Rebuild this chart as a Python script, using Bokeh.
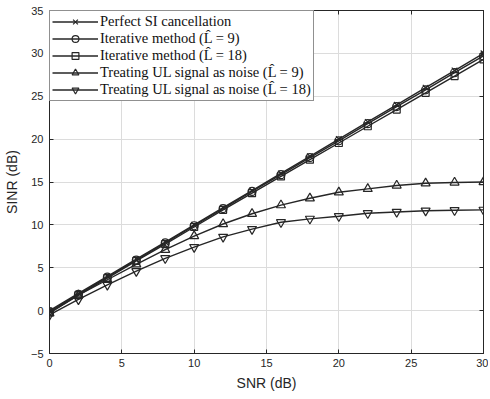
from bokeh.plotting import figure
from bokeh.models import FixedTicker, Legend, LegendItem, LinearAxis
from bokeh.embed import file_html
from bokeh.resources import INLINE

snr = [0, 2, 4, 6, 8, 10, 12, 14, 16, 18, 20, 22, 24, 26, 28, 30]
perfect = [0, 2, 4, 6, 8, 10, 12, 14, 16, 18, 20, 22, 24, 26, 28, 30]
iter_l9 = [-0.1, 1.9, 3.9, 5.9, 7.9, 9.9, 11.9, 13.9, 15.85, 17.85, 19.8, 21.8, 23.8, 25.75, 27.75, 29.7]
iter_l18 = [-0.2, 1.8, 3.8, 5.8, 7.75, 9.75, 11.75, 13.7, 15.65, 17.6, 19.55, 21.5, 23.45, 25.4, 27.35, 29.3]
ul_l9 = [-0.3, 1.8, 3.6, 5.4, 7.1, 8.7, 10.1, 11.3, 12.3, 13.1, 13.8, 14.2, 14.6, 14.85, 14.95, 15.0]
ul_l18 = [-0.5, 1.3, 3.0, 4.6, 6.1, 7.4, 8.6, 9.5, 10.3, 10.7, 11.0, 11.35, 11.5, 11.65, 11.7, 11.75]
x_ticks = [0, 5, 10, 15, 20, 25, 30]
y_ticks = [-5, 0, 5, 10, 15, 20, 25, 30, 35]

labels = [
    "Perfect SI cancellation",
    "Iterative method (L\u0302 = 9)",
    "Iterative method (L\u0302 = 18)",
    "Treating UL signal as noise (L\u0302 = 9)",
    "Treating UL signal as noise (L\u0302 = 18)",
]
series = [perfect, iter_l9, iter_l18, ul_l9, ul_l18]
markers = ["x", "circle", "square", "triangle", "inverted_triangle"]
sizes = [8, 8, 7, 9, 9]

p = figure(width=488, height=396, x_range=(0, 30), y_range=(-5, 35),
           output_backend="svg", toolbar_location=None,
           min_border_left=48, min_border_right=5, min_border_top=10, min_border_bottom=43)

line_col = "#262626"
items = []
for ys, lab, mk, sz in zip(series, labels, markers, sizes):
    r1 = p.line(snr, ys, line_color=line_col, line_width=1.4)
    r2 = p.scatter(snr, ys, marker=mk, size=sz, line_color=line_col, line_width=1.2,
                   fill_color=None)
    items.append(LegendItem(label=lab, renderers=[r1, r2]))

leg = Legend(items=items, location="top_left")
leg.margin = 0
leg.padding = 2
leg.spacing = 0
leg.glyph_width = 46
leg.glyph_height = 17
leg.label_height = 17
leg.label_standoff = 2
leg.label_text_font = "Liberation Serif"
leg.label_text_font_size = "14.5px"
leg.label_text_color = "#111111"
leg.border_line_color = "#222222"
leg.border_line_width = 1
leg.background_fill_color = "white"
leg.background_fill_alpha = 1.0
p.add_layout(leg)

p.xaxis.ticker = FixedTicker(ticks=x_ticks)
p.yaxis.ticker = FixedTicker(ticks=y_ticks)
p.xaxis.axis_label = "SNR (dB)"
p.yaxis.axis_label = "SINR (dB)"
for ax in (p.xaxis, p.yaxis):
    ax.axis_label_text_font = "Liberation Sans"
    ax.axis_label_text_font_style = "normal"
    ax.axis_label_text_font_size = "14px"
    ax.axis_label_text_color = "#262626"
    ax.major_label_text_font = "Liberation Sans"
    ax.major_label_text_font_size = "11px"
    ax.major_label_text_color = "#262626"
    ax.axis_line_color = "#262626"
    ax.major_tick_line_color = "#262626"
    ax.major_tick_in = 4
    ax.major_tick_out = 0
    ax.minor_tick_line_color = None
p.xaxis.major_label_standoff = 5
p.xaxis.axis_label_standoff = 5
p.yaxis.major_label_standoff = 6
p.yaxis.axis_label_standoff = 8

for loc, tk in (("right", y_ticks), ("above", x_ticks)):
    ax = LinearAxis(ticker=FixedTicker(ticks=tk))
    ax.major_label_overrides = {t: "" for t in tk}
    ax.major_label_standoff = 0
    ax.major_tick_in = 4
    ax.major_tick_out = 0
    ax.minor_tick_line_color = None
    ax.axis_line_color = "#262626"
    ax.major_tick_line_color = "#262626"
    p.add_layout(ax, loc)

p.grid.grid_line_color = "#dcdcdc"
p.grid.grid_line_width = 1
p.outline_line_color = "#262626"
p.outline_line_width = 1
p.background_fill_color = "white"
p.border_fill_color = "white"

open("out.html", "w").write(file_html(p, INLINE))
